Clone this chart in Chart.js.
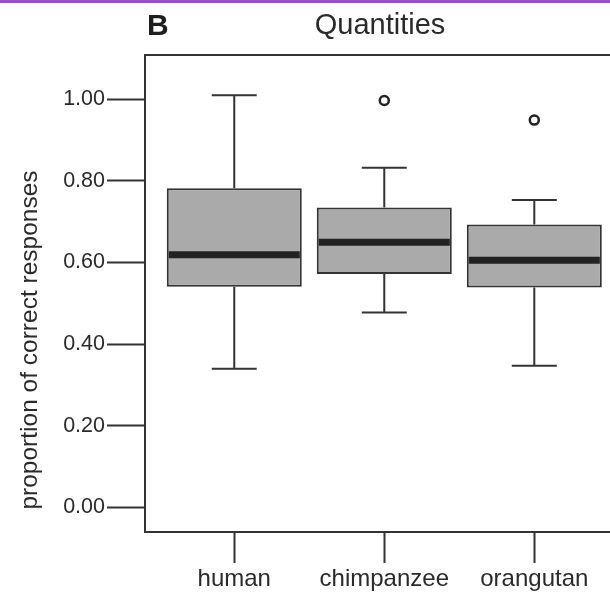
<!DOCTYPE html>
<html>
<head>
<meta charset="utf-8">
<title>Quantities</title>
<script src="https://cdn.jsdelivr.net/npm/chart.js@4.4.1/dist/chart.umd.min.js"></script>
<style>
  html, body { margin: 0; padding: 0; background: #fff; overflow: hidden; }
  #topbar { position: absolute; left: 0; top: 0; width: 610px; height: 3px; background: #9a4fc1; }
  #chart { display: block; }
</style>
</head>
<body>
<div id="topbar"></div>
<canvas id="chart" width="630" height="595"></canvas>
<script>
// box plot values
const categories = ["human", "chimpanzee", "orangutan"];
const whiskerLow = [0.34, 0.478, 0.347];
const q1 = [0.541, 0.572, 0.539];
const median = [0.619, 0.65, 0.606];
const q3 = [0.782, 0.735, 0.693];
const whiskerHigh = [1.01, 0.832, 0.753];
const outlierGroup = [2, 3];
const outlierValue = [0.997, 0.949];
const yTicks = [0, 0.2, 0.4, 0.6, 0.8, 1.0];

const lineColor = "#333";
const textColor = "#2a2a2a";

Chart.defaults.font.family = '"Liberation Sans", Arial, Helvetica, sans-serif';
Chart.defaults.color = textColor;

// whiskers, caps, medians, frame and extra labels
const boxPlotExtras = {
  id: "boxPlotExtras",
  afterDatasetsDraw(chart) {
    const { ctx, scales: { x, y } } = chart;
    const bars = chart.getDatasetMeta(0).data;
    ctx.save();
    categories.forEach((c, i) => {
      const cx = x.getPixelForValue(i + 1);
      const capL = x.getPixelForValue(i + 1 - 0.15);
      const capR = x.getPixelForValue(i + 1 + 0.15);
      const yHi = y.getPixelForValue(whiskerHigh[i]);
      const yLo = y.getPixelForValue(whiskerLow[i]);
      ctx.strokeStyle = lineColor;
      ctx.lineWidth = 2;
      ctx.beginPath();
      ctx.moveTo(cx, y.getPixelForValue(q3[i]));
      ctx.lineTo(cx, yHi);
      ctx.moveTo(cx, y.getPixelForValue(q1[i]));
      ctx.lineTo(cx, yLo);
      ctx.moveTo(capL, yHi);
      ctx.lineTo(capR, yHi);
      ctx.moveTo(capL, yLo);
      ctx.lineTo(capR, yLo);
      ctx.stroke();

      const bar = bars[i];
      const half = bar.width / 2;
      const ym = y.getPixelForValue(median[i]);
      ctx.strokeStyle = "#222";
      ctx.lineWidth = 7;
      ctx.beginPath();
      ctx.moveTo(bar.x - half + 2, ym);
      ctx.lineTo(bar.x + half - 2, ym);
      ctx.stroke();
    });
    ctx.restore();
  },
  afterDraw(chart) {
    const { ctx, chartArea } = chart;
    ctx.save();
    // top and right side of the frame
    ctx.strokeStyle = lineColor;
    ctx.lineWidth = 2;
    ctx.beginPath();
    ctx.moveTo(chartArea.left - 1, chartArea.top);
    ctx.lineTo(chartArea.right, chartArea.top);
    ctx.lineTo(chartArea.right, chartArea.bottom);
    ctx.stroke();

    // panel letter
    ctx.fillStyle = "#1e1e1e";
    ctx.font = 'bold 30px "Liberation Sans", Arial, sans-serif';
    ctx.textAlign = "left";
    ctx.textBaseline = "alphabetic";
    ctx.fillText("B", chartArea.left + 2, 35);

    // y axis title
    ctx.fillStyle = textColor;
    ctx.font = '24.5px "Liberation Sans", Arial, sans-serif';
    ctx.translate(37, 340);
    ctx.rotate(-Math.PI / 2);
    ctx.textAlign = "center";
    ctx.fillText("proportion of correct responses", 0, 0);
    ctx.restore();
  }
};

new Chart(document.getElementById("chart"), {
  type: "bar",
  data: {
    datasets: [
      {
        data: categories.map((c, i) => ({ x: i + 1, y: [q1[i], q3[i]] })),
        backgroundColor: "#aaaaaa",
        borderColor: lineColor,
        borderWidth: 2,
        borderSkipped: false,
        barPercentage: 0.9,
        categoryPercentage: 1
      },
      {
        type: "scatter",
        data: outlierGroup.map((g, i) => ({ x: g, y: outlierValue[i] })),
        pointRadius: 4.5,
        pointBorderWidth: 2.5,
        pointBackgroundColor: "#fff",
        pointBorderColor: "#222"
      }
    ]
  },
  options: {
    responsive: false,
    animation: false,
    devicePixelRatio: 1,
    layout: { padding: { left: 0, right: 15, top: 0, bottom: 0 } },
    plugins: {
      legend: { display: false },
      tooltip: { enabled: false },
      title: {
        display: true,
        text: "Quantities",
        fullSize: false,
        color: textColor,
        font: { size: 29, weight: "normal" },
        padding: { top: 8.5, bottom: 11.7 }
      }
    },
    scales: {
      x: {
        type: "linear",
        min: 0.405,
        max: 3.538,
        offset: false,
        grid: { drawOnChartArea: false, offset: false, tickLength: 31, tickWidth: 2, tickColor: lineColor },
        border: { display: true, color: lineColor, width: 2 },
        afterBuildTicks: (s) => { s.ticks = categories.map((c, i) => ({ value: i + 1 })); },
        afterFit: (s) => { s.height = 63; },
        ticks: {
          autoSkip: false,
          maxRotation: 0,
          padding: 2,
          color: textColor,
          font: { size: 24 },
          callback: (v) => categories[v - 1]
        }
      },
      y: {
        min: -0.06,
        max: 1.1085,
        grid: { drawOnChartArea: false, tickLength: 38, tickWidth: 2, tickColor: lineColor },
        border: { display: true, color: lineColor, width: 2 },
        afterBuildTicks: (s) => { s.ticks = yTicks.map((v) => ({ value: v })); },
        afterFit: (s) => { s.width = 145; },
        ticks: {
          padding: 2,
          color: textColor,
          font: { size: 21.5 },
          callback: (v) => Number(v).toFixed(2)
        }
      }
    }
  },
  plugins: [boxPlotExtras]
});
</script>
</body>
</html>
